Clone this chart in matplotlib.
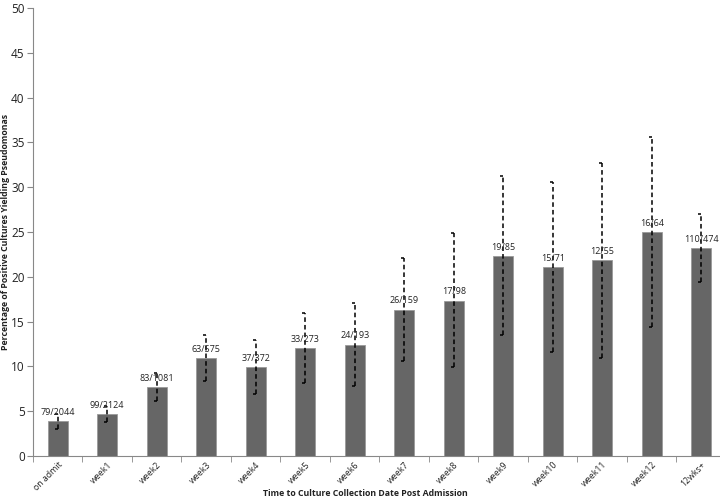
import matplotlib
matplotlib.use("Agg")
import matplotlib.pyplot as plt
from matplotlib.path import Path
import numpy as np

# data
categories = ["on admit", "week1", "week2", "week3", "week4", "week5", "week6",
              "week7", "week8", "week9", "week10", "week11", "week12", "12wks+"]
percent = [3.87, 4.66, 7.68, 10.96, 9.95, 12.09, 12.44,
           16.35, 17.35, 22.35, 21.13, 21.82, 25.0, 23.21]
ci_low = [3.0, 3.8, 6.1, 8.4, 6.9, 8.2, 7.8,
          10.6, 9.9, 13.5, 11.6, 10.9, 14.4, 19.4]
ci_high = [4.7, 5.6, 9.3, 13.5, 13.0, 16.0, 17.1,
           22.1, 24.9, 31.2, 30.6, 32.7, 35.6, 27.0]
counts = ["79/2044", "99/2124", "83/1081", "63/575", "37/372", "33/273", "24/193",
          "26/159", "17/98", "19/85", "15/71", "12/55", "16/64", "110/474"]

plt.rcParams["font.family"] = ["Open Sans", "DejaVu Sans"]

fig = plt.figure(figsize=(7.2, 5), dpi=100)
ax = fig.add_axes([0.0458, 0.088, 0.9625, 0.896])

x = np.arange(len(categories))
ax.bar(x, percent, width=0.4, color="#666666", edgecolor="#9a9a9a", linewidth=0.6, zorder=2)

# dashed error bars with left-side caps
ax.vlines(x, ci_low, ci_high, colors="black", linestyles=(0, (3, 2)), linewidth=1.1, zorder=3)
cap = Path([(-1, 0), (0, 0)], [Path.MOVETO, Path.LINETO])
ax.plot(x, ci_low, linestyle="none", marker=cap, markersize=5, markeredgecolor="black",
        markeredgewidth=1.1, zorder=3)
ax.plot(x, ci_high, linestyle="none", marker=cap, markersize=5, markeredgecolor="black",
        markeredgewidth=1.1, zorder=3)

for xi, p, c in zip(x, percent, counts):
    ax.annotate(c, (xi, p), xytext=(0, 3), textcoords="offset points",
                ha="center", va="bottom", fontsize=6.5, color="#222222", zorder=4)

ax.set_xlim(-0.5, len(categories) - 0.5)
ax.set_ylim(0, 50)
ax.set_yticks(np.arange(0, 51, 5))
ax.tick_params(axis="y", labelsize=8.5, length=4, pad=2, color="#888888", labelcolor="#222222")

ax.set_xticks(x)
ax.set_xticklabels(categories, rotation=45, ha="right", rotation_mode="anchor",
                   fontsize=6.3, color="#222222")
ax.tick_params(axis="x", length=0, pad=3)
ax.set_xticks(np.arange(-0.5, len(categories), 1), minor=True)
ax.tick_params(axis="x", which="minor", length=4, color="#888888")

for s in ["top", "right"]:
    ax.spines[s].set_visible(False)
for s in ["left", "bottom"]:
    ax.spines[s].set_color("#888888")

fig.text(0.008, 0.536, "Percentage of Positive Cultures Yielding Pseudomonas", rotation=90,
         ha="center", va="center", fontsize=6.3, fontweight="bold", color="#222222")
fig.text(0.507, 0.014, "Time to Culture Collection Date Post Admission",
         ha="center", va="center", fontsize=6.3, fontweight="bold", color="#222222")

fig.savefig("out.png", dpi=100)
